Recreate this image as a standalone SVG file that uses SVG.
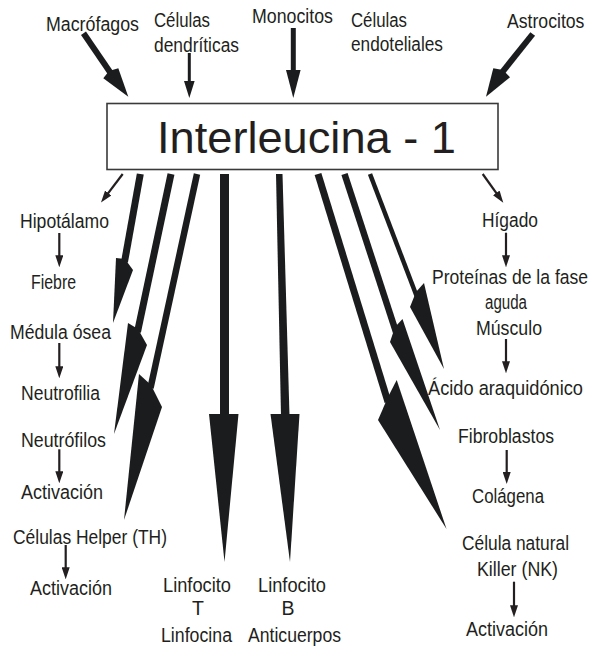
<svg xmlns="http://www.w3.org/2000/svg" width="591" height="650" viewBox="0 0 591 650">
<style>
.lbl{font-family:"Liberation Sans",Arial,sans-serif;font-size:19.5px;fill:#231f20}
.ttl{font-family:"Liberation Sans",Arial,sans-serif;font-size:44px;fill:#231f20}
.big{fill:#1b1c1e}
.sh{stroke:#1b1c1e;fill:none;stroke-linecap:butt}
.thin{stroke:#231f20;stroke-width:2.2;fill:none}
</style>
<defs>
<marker id="sm" markerUnits="userSpaceOnUse" markerWidth="12" markerHeight="8" refX="6" refY="4" orient="auto">
<path d="M0,0 L12,4 L0,8 z" fill="#231f20"/>
</marker>
</defs>
<rect width="591" height="650" fill="#ffffff"/>

<g id="interleucina">
<rect x="107" y="103.5" width="391" height="66" fill="#ffffff" stroke="#3a3a3a" stroke-width="1.6"/>
<text class="ttl" x="157" y="153" textLength="299" lengthAdjust="spacingAndGlyphs">Interleucina - 1</text>
</g>

<g id="macrofagos"><text class="lbl" x="46" y="31" textLength="93" lengthAdjust="spacingAndGlyphs">Macrófagos</text></g>
<g id="celulas-dendriticas">
<text class="lbl" x="154" y="27" textLength="56" lengthAdjust="spacingAndGlyphs">Células</text>
<text class="lbl" x="154" y="52" textLength="85" lengthAdjust="spacingAndGlyphs">dendríticas</text>
</g>
<g id="monocitos"><text class="lbl" x="252" y="23" textLength="81" lengthAdjust="spacingAndGlyphs">Monocitos</text></g>
<g id="celulas-endoteliales">
<text class="lbl" x="351" y="27" textLength="56" lengthAdjust="spacingAndGlyphs">Células</text>
<text class="lbl" x="351" y="51" textLength="92" lengthAdjust="spacingAndGlyphs">endoteliales</text>
</g>
<g id="astrocitos"><text class="lbl" transform="matrix(0.905,0,0,1,507,28)">Astrocitos</text></g>

<g id="hipotalamo"><text class="lbl" x="20" y="228" textLength="89" lengthAdjust="spacingAndGlyphs">Hipotálamo</text></g>
<g id="fiebre"><text class="lbl" x="31" y="289" textLength="45" lengthAdjust="spacingAndGlyphs">Fiebre</text></g>
<g id="medula-osea"><text class="lbl" x="10" y="339" textLength="101" lengthAdjust="spacingAndGlyphs">Médula ósea</text></g>
<g id="neutrofilia"><text class="lbl" x="21" y="400" textLength="79" lengthAdjust="spacingAndGlyphs">Neutrofilia</text></g>
<g id="neutrofilos"><text class="lbl" x="21" y="447" textLength="85" lengthAdjust="spacingAndGlyphs">Neutrófilos</text></g>
<g id="activacion-1"><text class="lbl" x="21" y="499" textLength="82" lengthAdjust="spacingAndGlyphs">Activación</text></g>
<g id="celulas-helper"><text class="lbl" x="13" y="544" textLength="154" lengthAdjust="spacingAndGlyphs">Células Helper (TH)</text></g>
<g id="activacion-2"><text class="lbl" x="30" y="595" textLength="82" lengthAdjust="spacingAndGlyphs">Activación</text></g>

<g id="linfocito-t">
<text class="lbl" x="163" y="592" textLength="68" lengthAdjust="spacingAndGlyphs">Linfocito</text>
<text class="lbl" x="198" y="615" text-anchor="middle">T</text>
<text class="lbl" x="161" y="642" textLength="71" lengthAdjust="spacingAndGlyphs">Linfocina</text>
</g>
<g id="linfocito-b">
<text class="lbl" x="258" y="592" textLength="68" lengthAdjust="spacingAndGlyphs">Linfocito</text>
<text class="lbl" x="288" y="615" text-anchor="middle">B</text>
<text class="lbl" x="248" y="642" textLength="93" lengthAdjust="spacingAndGlyphs">Anticuerpos</text>
</g>

<g id="higado"><text class="lbl" x="482" y="227" textLength="56" lengthAdjust="spacingAndGlyphs">Hígado</text></g>
<g id="proteinas">
<text class="lbl" transform="matrix(0.9,0,0,1,432,284)">Proteínas de la fase</text>
<text class="lbl" x="485" y="309" textLength="42" lengthAdjust="spacingAndGlyphs">aguda</text>
</g>
<g id="musculo"><text class="lbl" x="476" y="335" textLength="66" lengthAdjust="spacingAndGlyphs">Músculo</text></g>
<g id="acido"><text class="lbl" transform="matrix(0.935,0,0,1,428,395)">Ácido araquidónico</text></g>
<g id="fibroblastos"><text class="lbl" x="458" y="443" textLength="96" lengthAdjust="spacingAndGlyphs">Fibroblastos</text></g>
<g id="colagena"><text class="lbl" x="472" y="503" textLength="72" lengthAdjust="spacingAndGlyphs">Colágena</text></g>
<g id="nk">
<text class="lbl" x="462" y="550" textLength="107" lengthAdjust="spacingAndGlyphs">Célula natural</text>
<text class="lbl" x="477" y="576" textLength="81" lengthAdjust="spacingAndGlyphs">Killer (NK)</text>
</g>
<g id="activacion-3"><text class="lbl" x="466" y="636" textLength="82" lengthAdjust="spacingAndGlyphs">Activación</text></g>

<g id="connectors">
<!-- inputs -->
<line class="sh" x1="83.5" y1="33.3" x2="110.8" y2="73.3" stroke-width="6"/>
<polygon class="big" points="103.3,78.3 128.3,96.7 118.3,68.3 109,71"/>
<line class="sh" x1="189.3" y1="53" x2="189.3" y2="83" stroke-width="3"/>
<polygon class="big" points="184,81 194.6,81 189.3,98"/>
<line class="sh" x1="293.3" y1="28" x2="293.3" y2="72" stroke-width="5"/>
<polygon class="big" points="286,70 300.6,70 293.3,98"/>
<line class="sh" x1="532.7" y1="34" x2="501.7" y2="72.8" stroke-width="6"/>
<polygon class="big" points="493.3,68.3 486,96.7 510,77.3 503,70"/>

<!-- small outputs -->
<line class="thin" x1="122.7" y1="174" x2="104.6" y2="197.8" marker-end="url(#sm)"/>
<line class="thin" x1="482.7" y1="174" x2="499.8" y2="197.8" marker-end="url(#sm)"/>
<line class="thin" x1="59.3" y1="233" x2="59.3" y2="261.3" marker-end="url(#sm)"/>
<line class="thin" x1="59.3" y1="343" x2="59.3" y2="372.3" marker-end="url(#sm)"/>
<line class="thin" x1="59.3" y1="449.3" x2="59.3" y2="477.3" marker-end="url(#sm)"/>
<line class="thin" x1="65.7" y1="545" x2="65.7" y2="573.3" marker-end="url(#sm)"/>
<line class="thin" x1="506" y1="232.7" x2="506" y2="261.3" marker-end="url(#sm)"/>
<line class="thin" x1="506" y1="339" x2="506" y2="367.3" marker-end="url(#sm)"/>
<line class="thin" x1="506.7" y1="450" x2="506.7" y2="478" marker-end="url(#sm)"/>
<line class="thin" x1="514" y1="581.7" x2="514" y2="611.3" marker-end="url(#sm)"/>

<!-- big outputs left -->
<line class="sh" x1="140.3" y1="174" x2="124.5" y2="262" stroke-width="7"/>
<polygon class="big" points="116,258 113,323 133,270 125,259"/>
<line class="sh" x1="171" y1="174" x2="137.5" y2="332" stroke-width="7"/>
<polygon class="big" points="128,323 114,434 147,345 138,329"/>
<line class="sh" x1="197" y1="174" x2="150.5" y2="388" stroke-width="6.5"/>
<polygon class="big" points="139,374 124,520 162,407 151,385"/>

<!-- big outputs middle -->
<rect class="big" x="220" y="174" width="9" height="242"/>
<polygon class="big" points="209,414 238.5,414 224.5,562"/>
<polygon class="big" points="276,174 282.5,174 289.5,416 281,416"/>
<polygon class="big" points="270.5,414 299.5,414 290,562"/>

<!-- big outputs right -->
<line class="sh" x1="318" y1="174" x2="388" y2="402" stroke-width="7"/>
<polygon class="big" points="378,420 446.5,529 396.7,380 388,397"/>
<line class="sh" x1="344.5" y1="174" x2="396" y2="332" stroke-width="6.5"/>
<polygon class="big" points="390,342 440,430 402.5,319 395,327"/>
<line class="sh" x1="370" y1="174" x2="417" y2="297" stroke-width="4.5"/>
<polygon class="big" points="410,307 444,369 424,283 416,292"/>
</g>
</svg>
